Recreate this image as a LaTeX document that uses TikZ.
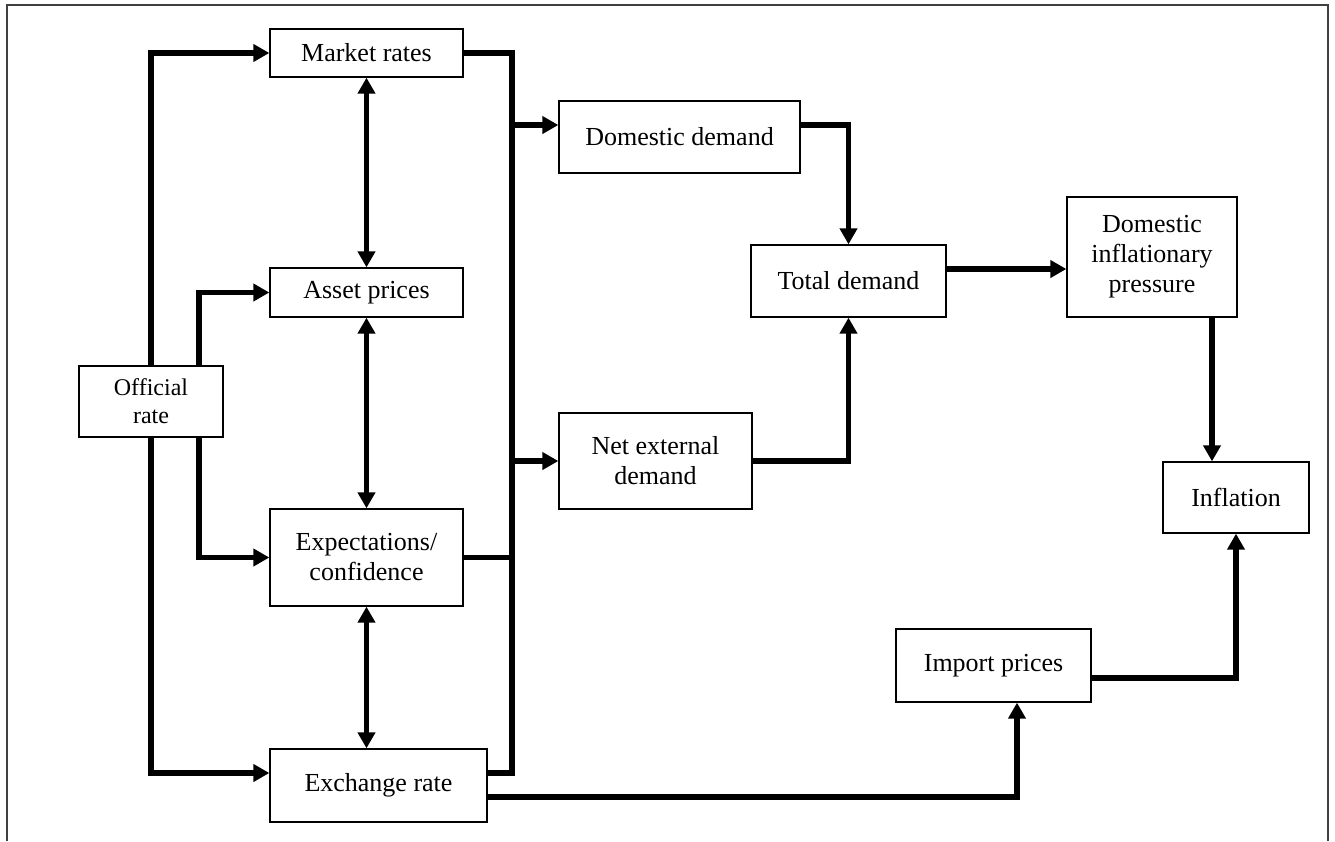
\documentclass[tikz,border=0pt]{standalone}
\usepackage{fontspec}
\setmainfont{Liberation Serif}
\usetikzlibrary{arrows.meta}
\begin{document}
\begin{tikzpicture}[x=1pt, y=-1pt, >={Triangle[length=16pt,width=17pt]},
	box/.style={draw, rectangle, line width=1.3pt, inner sep=0pt, align=center,
		font=\fontsize{26}{30}\selectfont},
	link/.style={line width=5.5pt}]
% Frame
\useasboundingbox (0,0) rectangle (1335,841);
\draw[line width=1.3pt, black!75] (7,841) -- (7,5) -- (1328,5) -- (1328,841);

% Left column
\node[box, minimum width=144pt, minimum height=71pt, font=\fontsize{24}{28}\selectfont]
	(Official) at (151,401.5) {Official\\rate};
\node[box, minimum width=193pt, minimum height=48pt] (Market) at (366.5,53) {Market rates};
\node[box, minimum width=193pt, minimum height=49pt] (Asset) at (366.5,292.5) {Asset prices};
\node[box, minimum width=193pt, minimum height=97pt] (Expect) at (366.5,557.5) {Expectations/\\confidence};
\node[box, minimum width=217pt, minimum height=73pt] (Exchange) at (378.5,785.5) {Exchange rate};

% Demand
\node[box, minimum width=241pt, minimum height=72pt] (DomDemand) at (679.5,137) {Domestic demand};
\node[box, minimum width=193pt, minimum height=96pt] (NetExt) at (655.5,461) {Net external\\demand};
\node[box, minimum width=195pt, minimum height=72pt] (Total) at (848.5,281) {Total demand};

% Prices
\node[box, minimum width=170pt, minimum height=120pt] (DomInfl) at (1152,257) {Domestic\\inflationary\\pressure};
\node[box, minimum width=146pt, minimum height=71pt] (Inflation) at (1236,497.5) {Inflation};
\node[box, minimum width=195pt, minimum height=73pt] (Import) at (993.5,665.5) {Import prices};

% Official rate to the four channels
\draw[link, ->] (Official.north) |- (Market.west);
\draw[link, ->] ([xshift=48pt]Official.north) |- (Asset.west);
\draw[link, ->] ([xshift=48pt]Official.south) |- (Expect.west);
\draw[link, ->] (Official.south) |- ([yshift=12.5pt]Exchange.west);

% Links between the channels
\foreach \a/\b in {Market/Asset, Asset/Expect, Expect/Exchange}
{
	\draw[link, <->] (\a.south) -- (\a.south |- \b.north);
}

% Collecting line
\coordinate (Bus) at (512,773);
\draw[link] (Market.east) -| (Bus) -- (Bus -| Exchange.east);
\draw[link] (Expect.east) -- (Expect.east -| Bus);
\draw[link, ->] ([yshift=12pt]DomDemand.west -| Bus) -- ([yshift=12pt]DomDemand.west);
\draw[link, ->] (NetExt.west -| Bus) -- (NetExt.west);

% Demand to inflation
\draw[link, ->] ([yshift=12pt]DomDemand.east) -| (Total.north);
\draw[link, ->] (NetExt.east) -| (Total.south);
\draw[link, ->] ([yshift=12pt]Total.east) -- ([yshift=12pt]Total.east -| DomInfl.west);
\draw[link, ->] ([xshift=60pt]DomInfl.south) -- ([xshift=60pt]DomInfl.south |- Inflation.north);

% Exchange rate to inflation
\draw[link, ->] ([yshift=-11.5pt]Exchange.east) -| ([xshift=23.5pt]Import.south);
\draw[link, ->] ([yshift=-12.5pt]Import.east) -| (Inflation.south);
\end{tikzpicture}
\end{document}
